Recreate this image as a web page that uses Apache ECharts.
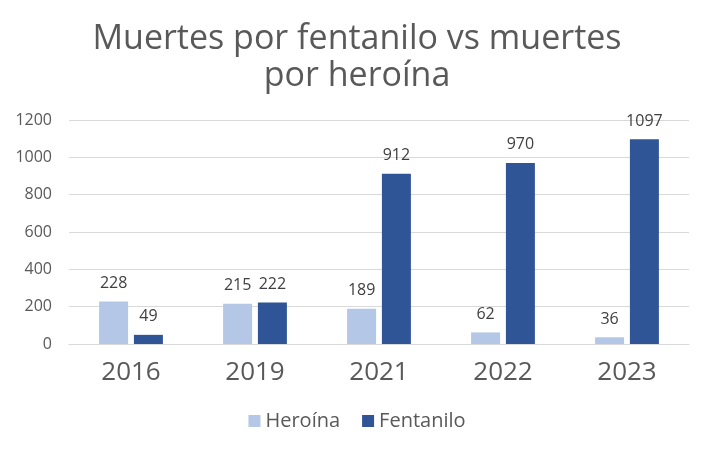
<!DOCTYPE html>
<html><head><meta charset="utf-8">
<script src="https://cdn.jsdelivr.net/npm/echarts@6/dist/echarts.min.js"></script>
<style>html,body{margin:0;padding:0;background:#fff}#c{width:714px;height:450px}</style>
</head><body><div id="c"></div>
<script>
const categories = ['2016','2019','2021','2022','2023'];
const heroina = [228,215,189,62,36];
const fentanilo = [49,222,912,970,1097];
const yTicks = [0,200,400,600,800,1000,1200];
const font = '"Open Sans", "DejaVu Sans", sans-serif';
const chart = echarts.init(document.getElementById('c'));
const labelStyle = {show:true, position:'top', color:'#404040', fontSize:16, fontFamily:font, distance:10};
chart.setOption({
  animation:false,
  title:{text:'Muertes por fentanilo vs muertes\npor heroína', left:'center', top:16,
    textStyle:{fontSize:34, fontWeight:'normal', color:'#595959', fontFamily:font, lineHeight:37}},
  legend:{bottom:14, left:'center', itemWidth:12, itemHeight:12, itemGap:22,
    textStyle:{fontSize:20, color:'#595959', fontFamily:font},
    data:[{name:'Heroína', icon:'rect'},{name:'Fentanilo', icon:'rect'}]},
  grid:{left:69, right:25, top:120, bottom:106, containLabel:false},
  xAxis:{type:'category', data:categories,
    axisLine:{lineStyle:{color:'#d9d9d9'}}, axisTick:{show:false},
    axisLabel:{fontSize:26, color:'#595959', fontFamily:font, margin:16}},
  yAxis:{type:'value', min:yTicks[0], max:yTicks[yTicks.length-1], interval:200,
    axisLine:{show:false}, axisTick:{show:false},
    splitLine:{lineStyle:{color:'#d9d9d9', width:1}},
    axisLabel:{fontSize:16, color:'#595959', fontFamily:font, margin:17, formatter:v=>String(v)}},
  series:[
    {name:'Heroína', type:'bar', data:heroina, barWidth:29, barGap:'20%', itemStyle:{color:'#B4C7E7'}, label:labelStyle},
    {name:'Fentanilo', type:'bar', data:fentanilo, barWidth:29, itemStyle:{color:'#2F5597'}, label:labelStyle}
  ]
});
</script></body></html>
